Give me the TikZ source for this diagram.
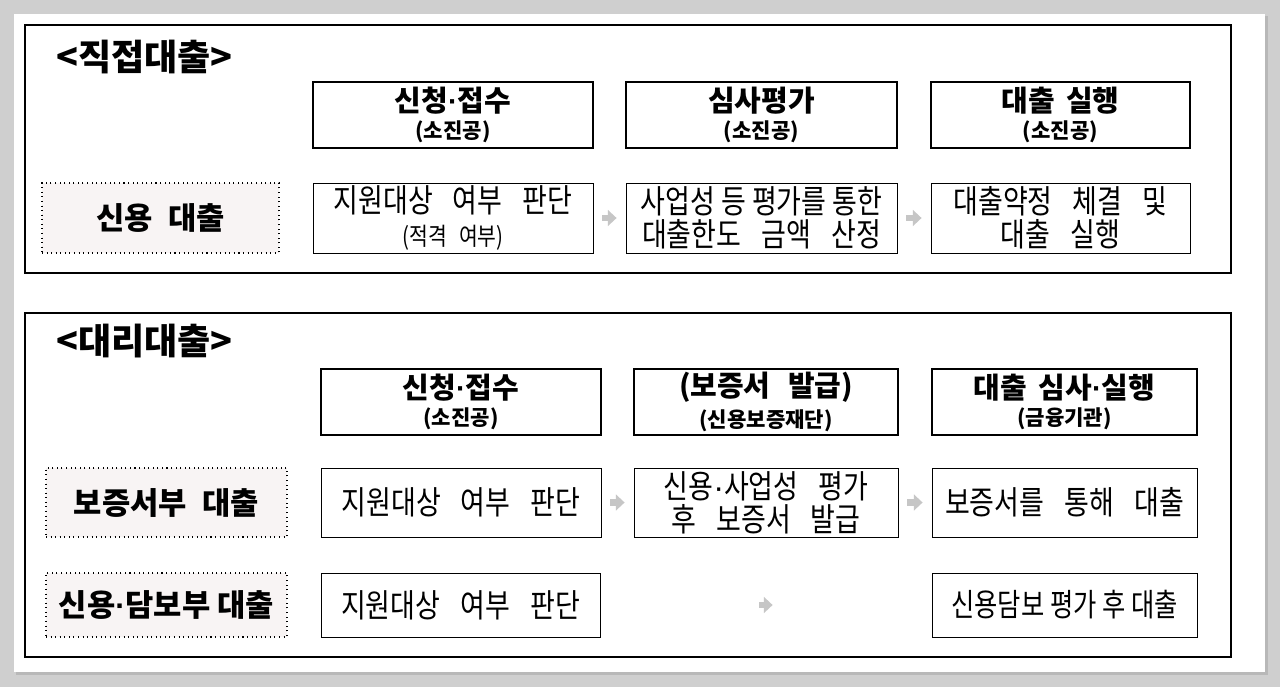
\documentclass[tikz,border=0pt]{standalone}
\usepackage{fontspec}
\setmainfont{Noto Sans CJK KR}
\newfontfamily\krn[FakeStretch=0.83]{Noto Sans CJK KR}
\newfontfamily\krc[FakeStretch=0.8]{Noto Sans CJK KR}
\newfontfamily\latin{Liberation Sans}
\usetikzlibrary{positioning}
\usetikzlibrary{calc}
\usetikzlibrary{arrows.meta}
\definecolor{pagegray}{HTML}{CFCFCF}
\definecolor{shadowgray}{HTML}{B8B8B8}
\definecolor{labelfill}{HTML}{F8F4F4}
\definecolor{arrowgray}{HTML}{C6C6C6}
\tikzset{x=0.02cm,y=-0.02cm,
headbox/.style={draw,line width=1.4pt,minimum height=1.32cm,inner sep=0pt,align=center,font=\bfseries},
stepbox/.style={draw,line width=0.5pt,minimum height=1.4cm,inner sep=0pt,align=center,font=\krn\fontsize{18.5}{18.7}\selectfont},
rowlabel/.style={draw,dotted,line width=0.6pt,fill=labelfill,minimum height=1.4cm,inner sep=0pt,font=\bfseries\fontsize{17.5}{19}\selectfont},
title/.style={anchor=west,font=\bfseries\fontsize{20.5}{22}\selectfont},
frame/.style={draw,line width=0.9pt},
flow/.style={-{Triangle[length=5pt,width=9pt]},line width=3.5pt,arrowgray,shorten <=0.18cm,shorten >=0.18cm}}
\newcommand{\md}{{\latin\bfseries ·}}
\newcommand{\gp}{\hspace{0.62em}}
\newcommand{\hd}[2]{{\fontsize{16.5}{19}\selectfont #1}\\[3pt]{\fontsize{12}{14}\selectfont #2}}
\begin{document}
\begin{tikzpicture}
% page
\fill[pagegray] (0,0) rectangle (1280,687);
\fill[shadowgray] (16,16) rectangle (1268,675);
\fill[white] (14,14) rectangle (1265,672);
\draw[frame] (25,25) rectangle (1231,273);
\draw[frame] (25,313) rectangle (1231,657);

% direct loan
\node (t1) [title] at (50,57) {<직접대출>};
\node (h1) [headbox,minimum width=5.6cm] at (453,115) {\hd{신청\md 접수}{(소진공)}};
\node (h2) [headbox,minimum width=5.42cm] at (761.5,115) {\hd{심사평가}{(소진공)}};
\node (h3) [headbox,minimum width=5.18cm] at (1060.5,115) {\hd{대출\hspace{0.4em}실행}{(소진공)}};
\node (l1) [rowlabel,minimum width=4.74cm] at (160.5,218) {신용\hspace{0.5em}대출};
\node (a1) [stepbox,minimum width=5.6cm] at (453,218) {지원대상\gp 여부\gp 판단\\{\fontsize{14}{15}\selectfont (적격\hspace{0.5em}여부)}};
\node (a2) [stepbox,minimum width=5.42cm] at (761.5,218) {사업성 등 평가를 통한\\대출한도\gp 금액\gp 산정};
\node (a3) [stepbox,minimum width=5.18cm] at (1060.5,218) {대출약정\gp 체결\gp 및\\대출\gp 실행};
\draw[flow] (a1) -- (a2);
\draw[flow] (a2) -- (a3);

% agency loan
\node (t2) [title] at (50,341) {<대리대출>};
\node (g1) [headbox,minimum width=5.6cm] at (461,402) {\hd{신청\md 접수}{(소진공)}};
\node (g2) [headbox,minimum width=5.28cm] at (766,402) {\hd{(보증서\hspace{0.6em}발급)}{(신용보증재단)}};
\node (g3) [headbox,minimum width=5.3cm] at (1064.5,402) {\hd{대출\hspace{0.4em}심사\md 실행}{(금융기관)}};
\node (l2) [rowlabel,minimum width=4.82cm,minimum height=1.38cm] at (166.5,502.5) {보증서부\hspace{0.5em}대출};
\node (b1) [stepbox,minimum width=5.6cm,minimum height=1.38cm] at (461,502.5) {지원대상\gp 여부\gp 판단};
\node (b2) [stepbox,minimum width=5.28cm,minimum height=1.38cm] at (766,502.5) {신용{\latin ·}사업성\gp 평가\\후\gp 보증서\gp 발급};
\node (b3) [stepbox,minimum width=5.3cm,minimum height=1.38cm] at (1064.5,502.5) {보증서를\gp 통해\gp 대출};
\draw[flow] (b1) -- (b2);
\draw[flow] (b2) -- (b3);
\node (l3) [rowlabel,minimum width=4.82cm,minimum height=1.28cm] at (166.5,605) {신용\md 담보부 대출};
\node (c1) [stepbox,minimum width=5.58cm,minimum height=1.28cm] at (460.5,605) {지원대상\gp 여부\gp 판단};
\node (c3) [stepbox,minimum width=5.3cm,minimum height=1.28cm,font=\krc\fontsize{18}{18}\selectfont] at (1064.5,605) {신용담보 평가 후 대출};
\draw[flow,shorten <=3.18cm,shorten >=3.18cm] (c1) -- (c3);
\end{tikzpicture}
\end{document}
